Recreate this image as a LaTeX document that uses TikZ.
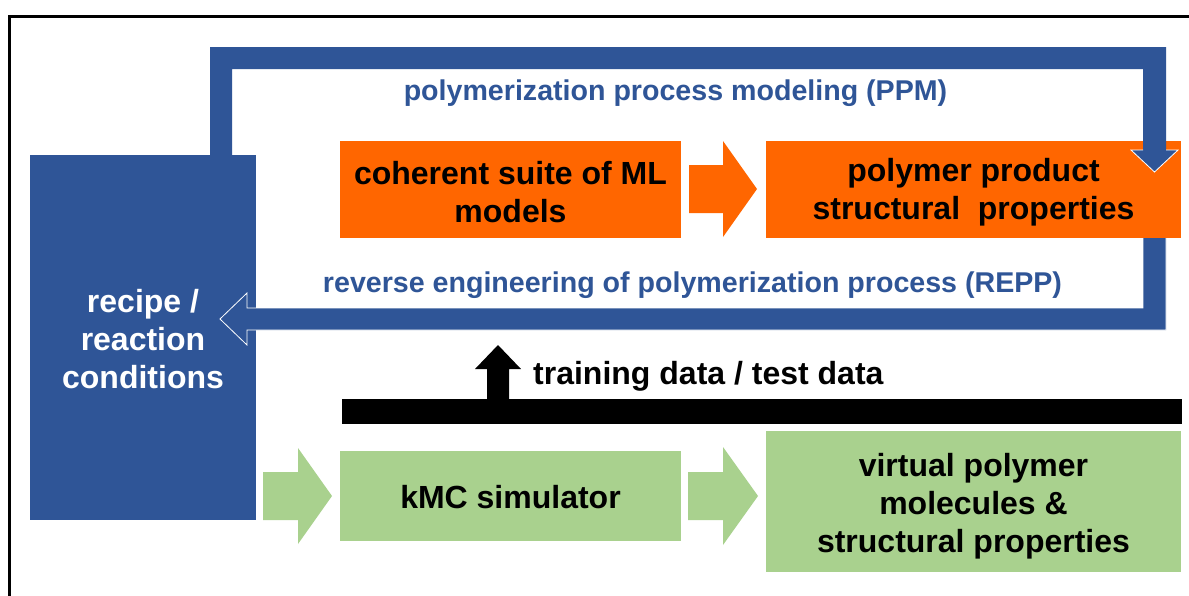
\documentclass[tikz,border=0pt]{standalone}
\usepackage{fontspec}
\setmainfont{Liberation Sans}
\usetikzlibrary{calc}
\definecolor{pblue}{HTML}{2F5597}
\definecolor{porange}{HTML}{FF6600}
\definecolor{pgreen}{HTML}{A9D18E}
\begin{document}
\begin{tikzpicture}[x=1pt,y=-1pt,
  box/.style={draw=none,inner sep=0pt},
  txt/.style={inner sep=0pt,align=center,font=\fontsize{32}{38}\selectfont\bfseries},
  lbl/.style={inner sep=0pt,font=\fontsize{28.6}{34}\selectfont\bfseries,text=pblue},
  outline/.style={draw=white,line width=0.8pt,line join=miter}]
\useasboundingbox[fill=white] (0,0) rectangle (1189,595);
% outer frame
\draw[line width=2.5pt,line cap=rect] (9.5,595) -- (9.5,16.5) -- (1189,16.5);

% recipe box
\node[box,fill=pblue,minimum width=226pt,minimum height=365pt] (recipe) at (143,337.5) {};
\node[txt,text=white] (recipetxt) at ($(recipe.center)+(0,2)$) {recipe /\\reaction\\conditions};

% bottom REPP loop
\filldraw[outline,fill=pblue] (1143,234) -- (1166,234) -- (1166,330) -- (247,330) -- (247,345)
  -- (220,319) -- (247,293) -- (247,308) -- (1143,308) -- cycle;

% orange boxes
\node[box,fill=porange,minimum width=341pt,minimum height=97pt] (ml) at (510.5,189.5) {};
\node[txt] (mltxt) at ($(ml.center)+(0,2.5)$) {coherent suite of ML\\models};
\node[box,fill=porange,minimum width=415pt,minimum height=97pt] (prod) at (973.5,189.5) {};
\node[txt] (prodtxt) at ($(prod.center)+(0,2.5)$) {polymer product\\structural\ \ properties};
\fill[porange] (689,165) -- (723,165) -- (723,141) -- (757,189) -- (723,237) -- (723,213) -- (689,213) -- cycle;

% top PPM loop (drawn over the boxes)
\fill[pblue] (210,156) -- (210,47) -- (1166,47) -- (1166,150) -- (1178,150)
  -- (1154.5,172) -- (1131,150) -- (1143,150) -- (1143,69) -- (232,69) -- (232,156) -- cycle;
\draw[outline] (1143,150) -- (1131,150) -- (1154.5,172) -- (1178,150) -- (1166,150);

% labels
\node[lbl] (ppm) at (675.5,93) {polymerization process modeling (PPM)};
\node[lbl] (repp) at (692.5,285.5) {reverse engineering of polymerization process (REPP)};

% black bar and arrow
\fill[black] (342,399) rectangle (1182,424);
\fill[black] (487,399) -- (487,369) -- (475,369) -- (498,345) -- (521,369) -- (509,369) -- (509,399) -- cycle;
\node[txt,anchor=west] (train) at (533,376) {training data / test data};

% green boxes
\node[box,fill=pgreen,minimum width=341pt,minimum height=90pt] (kmc) at (510.5,496) {};
\node[txt] (kmctxt) at ($(kmc.center)+(0,1)$) {kMC simulator};
\node[box,fill=pgreen,minimum width=415pt,minimum height=141pt] (virt) at (973.5,501.5) {};
\node[txt] (virttxt) at ($(virt.center)+(0,4.5)$) {virtual polymer\\molecules \&\\structural properties};
\fill[pgreen] (263,472) -- (298,472) -- (298,448) -- (332,496) -- (298,544) -- (298,520) -- (263,520) -- cycle;
\fill[pgreen] (688,472) -- (723,472) -- (723,447) -- (758,496) -- (723,545) -- (723,520) -- (688,520) -- cycle;
\end{tikzpicture}
\end{document}
